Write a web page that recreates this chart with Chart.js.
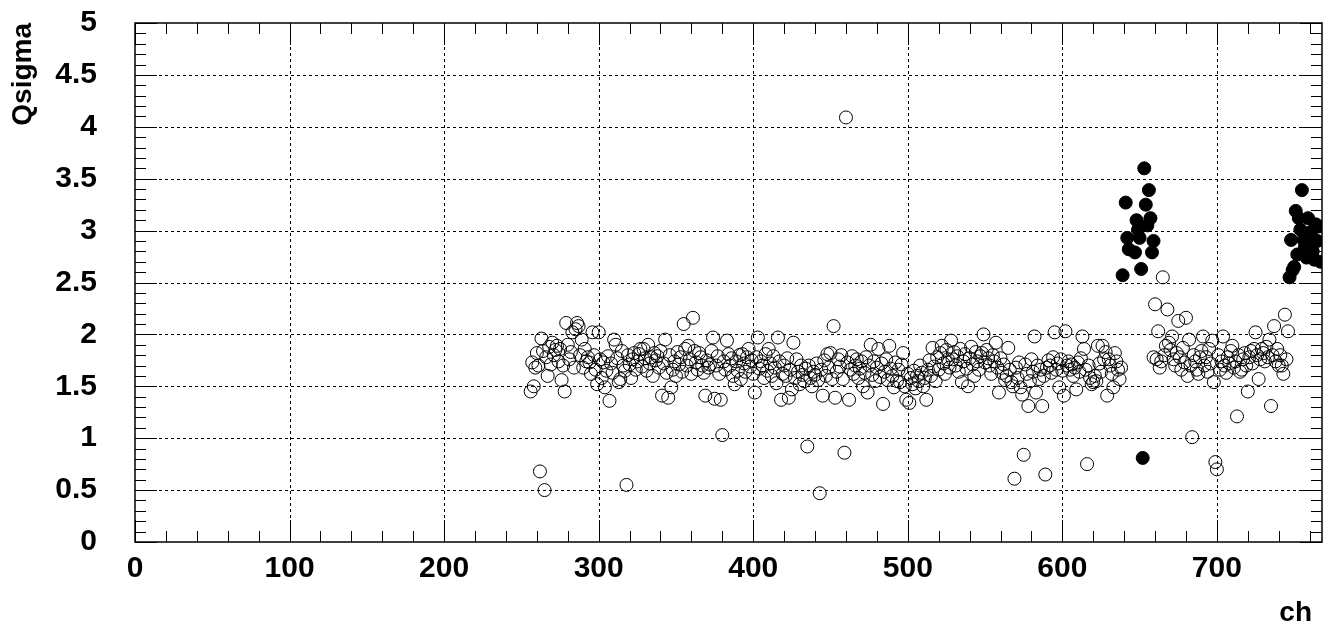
<!DOCTYPE html>
<html>
<head>
<meta charset="utf-8">
<script src="https://cdn.jsdelivr.net/npm/chart.js@4"></script>
<style>
  html, body { margin: 0; padding: 0; background: #fff; }
</style>
</head>
<body>
<canvas id="myChart" width="1329" height="627"></canvas>
<script>
// Qsigma per channel, first entry is channel 256 (null = flagged channel, see below)
const firstCh = 256;
const qsigma = [
  1.45, 1.73, 1.50, 1.68, 1.82, 1.70, 0.68, 1.96, 1.84, 0.50,
  1.78, 1.60, 1.88, 1.71, 1.92, 1.80, 1.85, 1.89, 1.74, 1.86,
  1.56, 1.70, 1.45, 2.11, 1.90, 1.76, 1.83, 2.02, 1.68, 2.05,
  2.11, 2.08, 1.80, 1.95, 1.68, 1.86, 1.74, 1.78, 1.73, 1.62,
  2.02, 1.80, 1.66, 1.52, 2.02, 1.76, 1.58, 1.73, 1.49, 1.65,
  1.79, 1.36, 1.72, 1.63, 1.95, 1.90, 1.77, 1.54, 1.57, 1.84,
  1.70, 1.65, 0.55, 1.80, 1.71, 1.58, 1.76, 1.82, 1.66, 1.74,
  1.81, 1.86, 1.69, 1.86, 1.77, 1.65, 1.90, 1.72, 1.78, 1.60,
  1.82, 1.75, 1.79, 1.68, 1.84, 1.41, 1.72, 1.95, 1.63, 1.39,
  1.80, 1.49, 1.66, 1.74, 1.60, 1.83, 1.71, 1.78, 1.64, 2.10,
  1.86, 1.70, 1.89, 1.76, 1.62, 2.16, 1.84, 1.73, 1.66, 1.82,
  1.78, 1.70, 1.63, 1.41, 1.75, 1.68, 1.71, 1.84, 1.97, 1.38,
  1.70, 1.79, 1.62, 1.37, 1.03, 1.74, 1.66, 1.94, 1.81, 1.70,
  1.77, 1.60, 1.52, 1.74, 1.65, 1.80, 1.57, 1.81, 1.72, 1.64,
  1.78, 1.86, 1.69, 1.75, 1.62, 1.44, 1.78, 1.97, 1.67, 1.74,
  1.70, 1.58, 1.81, 1.65, 1.86, 1.72, 1.60, 1.79, 1.68, 1.53,
  1.97, 1.74, 1.37, 1.62, 1.70, 1.60, 1.77, 1.39, 1.66, 1.47,
  1.92, 1.58, 1.76, 1.64, 1.52, 1.70, 1.61, 1.55, 1.67, 0.92,
  1.70, 1.58, 1.50, 1.64, 1.61, 1.72, 1.56, 0.47, 1.66, 1.41,
  1.75, 1.60, 1.81, 1.68, 1.82, 1.57, 2.08, 1.39, 1.64, 1.76,
  1.69, 1.80, 1.57, 0.86, 4.09, 1.73, 1.37, 1.66, 1.79, 1.62,
  1.70, 1.76, 1.58, 1.67, 1.74, 1.50, 1.63, 1.78, 1.44, 1.70,
  1.90, 1.61, 1.74, 1.55, 1.68, 1.86, 1.59, 1.72, 1.33, 1.64,
  1.76, 1.56, 1.89, 1.67, 1.60, 1.49, 1.73, 1.55, 1.66, 1.54,
  1.71, 1.82, 1.50, 1.37, 1.62, 1.34, 1.58, 1.52, 1.65, 1.48,
  1.60, 1.55, 1.70, 1.63, 1.50, 1.58, 1.37, 1.66, 1.75, 1.60,
  1.87, 1.69, 1.55, 1.78, 1.66, 1.82, 1.89, 1.72, 1.62, 1.85,
  1.76, 1.68, 1.94, 1.76, 1.83, 1.70, 1.79, 1.64, 1.86, 1.54,
  1.74, 1.81, 1.67, 1.50, 1.77, 1.88, 1.71, 1.60, 1.83, 1.74,
  1.66, 1.79, 1.82, 2.00, 1.73, 1.85, 1.77, 1.70, 1.62, 1.80,
  1.74, 1.92, 1.68, 1.44, 1.77, 1.63, 1.71, 1.56, 1.60, 1.87,
  1.66, 1.54, 1.50, 0.61, 1.68, 1.58, 1.73, 1.49, 1.42, 0.84,
  1.71, 1.62, 1.31, 1.55, 1.76, 1.64, 1.98, 1.44, 1.70, 1.57,
  1.66, 1.31, 1.60, 0.65, 1.68, 1.75, 1.70, 1.63, 1.78, 2.02,
  1.66, 1.72, 1.49, 1.76, 1.65, 1.41, 2.03, 1.70, 1.74, 1.66,
  1.71, 1.60, 1.68, 1.47, 1.73, 1.64, 1.77, 1.98, 1.86, 1.66,
  0.75, 1.70, 1.58, 1.52, 1.54, 1.60, 1.55, 1.89, 1.72, 1.64,
  1.89, 1.76, 1.83, 1.41, 1.76, 1.70, 1.62, 1.49, 1.82, 1.74,
  1.66, 1.57, 1.68,
  null, null, null, null, null, null, null, null, null, null,
  null, null, null, null, null, null, null, null, null, null,
  1.78, 2.29, 1.76, 2.03, 1.68, 1.74, 2.55, 1.80, 1.89, 2.24,
  1.92, 1.85, 1.98, 1.76, 1.70, 1.82, 2.13, 1.78, 1.66, 1.87,
  1.73, 2.16, 1.60, 1.95, 1.70, 1.01, 1.80, 1.74, 1.66, 1.62,
  1.78, 1.84, 1.98, 1.70, 1.78, 1.64, 1.86, 1.72, 1.94, 1.54,
  0.77, 0.70, 1.80, 1.66, 1.74, 1.98, 1.70, 1.63, 1.78, 1.72,
  1.84, 1.89, 1.68, 1.74, 1.21, 1.80, 1.64, 1.66, 1.76, 1.82,
  1.70, 1.45, 1.78, 1.84, 1.72, 1.86, 2.02, 1.80, 1.57, 1.76,
  1.86, 1.82, 1.74, 1.88, 1.78, 1.95, 1.31, 1.80, 2.08, 1.74,
  1.86, 1.70, 1.80, 1.70, 1.62, 2.19, 1.76, 2.03
];

// flagged channels (filled markers)
const badCh = [639, 641, 642, 643, 647, 648, 649, 650, 651, 652, 653, 654, 655, 656, 657, 658, 659,
  747, 748, 749, 750, 751, 752, 753, 754, 755, 756, 757, 758, 759, 760, 761, 762, 763, 764, 765, 766, 767];
const badQsigma = [2.57, 3.27, 2.93, 2.82, 2.79, 3.10, 3.01, 2.93, 2.63, 0.81, 3.60, 3.25, 3.05, 3.39, 3.12, 2.79, 2.90,
  2.55, 2.91, 2.62, 2.65, 3.19, 2.77, 3.12, 3.01, 3.39, 2.91, 2.84, 2.74, 3.12, 2.92, 2.99, 2.80, 2.72, 3.06, 2.90, 3.04, 2.70];

const xMax = 768;
const yMax = 5;
const xGrid = [100, 200, 300, 400, 500, 600, 700];
const yGrid = [0.5, 1, 1.5, 2, 2.5, 3, 3.5, 4, 4.5];

const openPts = [];
qsigma.forEach((v, i) => { if (v !== null) openPts.push({x: firstCh + i, y: v}); });
const badPts = badCh.map((c, i) => ({x: c, y: badQsigma[i]}));

// ROOT-like frame: dotted grid, ticks on all four sides, axis titles
const rootFrame = {
  id: 'rootFrame',
  beforeDatasetsDraw(chart) {
    const {ctx, chartArea: a, scales: {x, y}} = chart;
    ctx.save();
    ctx.strokeStyle = '#000';
    ctx.lineWidth = 1;
    ctx.setLineDash([3, 3]);
    ctx.beginPath();
    xGrid.forEach(v => {
      const px = Math.round(x.getPixelForValue(v)) + 0.5;
      ctx.moveTo(px, a.top); ctx.lineTo(px, a.bottom);
    });
    yGrid.forEach(v => {
      const py = Math.round(y.getPixelForValue(v)) + 0.5;
      ctx.moveTo(a.left, py); ctx.lineTo(a.right, py);
    });
    ctx.stroke();
    ctx.restore();
  },
  afterDatasetsDraw(chart) {
    const {ctx, chartArea: a, scales: {x, y}} = chart;
    ctx.save();
    ctx.strokeStyle = '#000';
    ctx.lineWidth = 1;
    ctx.beginPath();
    for (let v = 0; v < xMax; v += 20) {
      const px = Math.round(x.getPixelForValue(v)) + 0.5;
      const len = v % 100 === 0 ? 22 : 11;
      ctx.moveTo(px, a.bottom); ctx.lineTo(px, a.bottom - len);
      ctx.moveTo(px, a.top); ctx.lineTo(px, a.top + len);
    }
    for (let i = 0; i <= yMax * 10; i++) {
      const py = Math.round(y.getPixelForValue(i / 10)) + 0.5;
      const len = i % 5 === 0 ? 22 : 11;
      ctx.moveTo(a.left, py); ctx.lineTo(a.left + len, py);
      ctx.moveTo(a.right, py); ctx.lineTo(a.right - len, py);
    }
    ctx.stroke();
    ctx.lineWidth = 1.5;
    ctx.strokeRect(a.left, a.top, a.right - a.left, a.bottom - a.top);

    ctx.fillStyle = '#000';
    ctx.font = 'bold 28px "Liberation Sans", Arial, sans-serif';
    ctx.textAlign = 'right';
    ctx.textBaseline = 'alphabetic';
    ctx.fillText('ch', 1312, 621);
    ctx.translate(31, a.top);
    ctx.rotate(-Math.PI / 2);
    ctx.fillText('Qsigma', 0, 0);
    ctx.restore();
  }
};

Chart.defaults.font.family = '"Liberation Sans", Arial, sans-serif';
Chart.defaults.color = '#000';

const ctx = document.getElementById('myChart');

new Chart(ctx, {
    type: 'scatter',
    data: {
        datasets: [{
            label: 'Qsigma',
            data: openPts,
            pointStyle: 'circle',
            pointRadius: 6.5,
            pointHoverRadius: 6.5,
            pointBorderWidth: 1,
            borderColor: '#000',
            backgroundColor: 'rgba(0,0,0,0)',
            clip: 0
        }, {
            label: 'flagged',
            data: badPts,
            pointStyle: 'circle',
            pointRadius: 6.5,
            pointHoverRadius: 6.5,
            pointBorderWidth: 1,
            borderColor: '#000',
            backgroundColor: '#000',
            clip: 0
        }]
    },
    options: {
        responsive: false,
        animation: false,
        devicePixelRatio: 1,
        layout: {
            autoPadding: false,
            padding: {top: 23, right: 7, left: 0, bottom: 0}
        },
        scales: {
            x: {
                type: 'linear',
                min: 0,
                max: xMax,
                grid: {display: false},
                border: {display: false},
                afterFit: (s) => {
                    s.height = 85;
                    s.paddingLeft = 0;
                    s.paddingRight = 0;
                },
                ticks: {
                    stepSize: 100,
                    includeBounds: false,
                    autoSkip: false,
                    maxRotation: 0,
                    padding: 1,
                    font: {size: 30, weight: 'bold'}
                }
            },
            y: {
                min: 0,
                max: yMax,
                grid: {display: false},
                border: {display: false},
                afterFit: (s) => {
                    s.width = 135;
                    s.paddingTop = 0;
                    s.paddingBottom = 0;
                },
                ticks: {
                    stepSize: 0.5,
                    padding: 30,
                    font: {size: 30, weight: 'bold'},
                    callback: (v) => String(+v)
                }
            }
        },
        plugins: {
            legend: {display: false},
            title: {display: false},
            tooltip: {enabled: false}
        }
    },
    plugins: [rootFrame]
});
</script>
</body>
</html>
